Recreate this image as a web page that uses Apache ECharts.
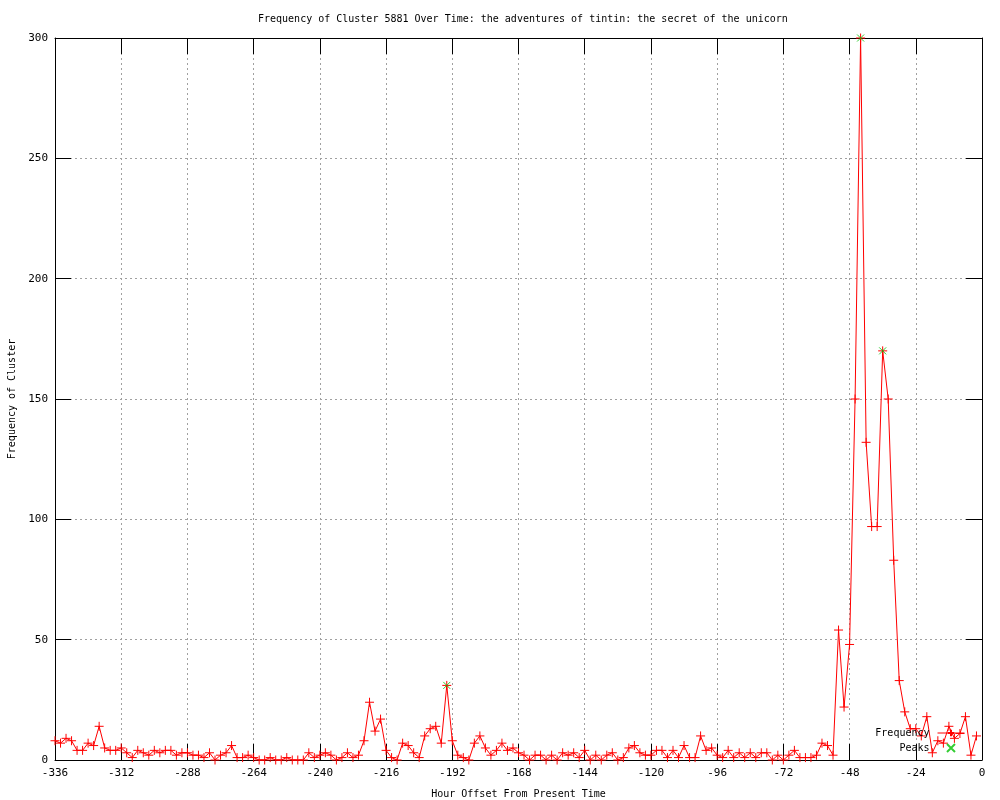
<!DOCTYPE html>
<html>
<head>
<meta charset="utf-8">
<script src="https://cdn.jsdelivr.net/npm/echarts@6/dist/echarts.min.js"></script>
<style>html,body{margin:0;padding:0;background:#fff;}#c{width:1000px;height:800px;}</style>
</head>
<body>
<div id="c"></div>
<script>
const titleText = 'Frequency of Cluster 5881 Over Time: the adventures of tintin: the secret of the unicorn';
const xName = 'Hour Offset From Present Time';
const yName = 'Frequency of Cluster';

const hours = [
  -336,-334,-332,-330,-328,-326,-324,-322,-320,-318,-316,-314,
  -312,-310,-308,-306,-304,-302,-300,-298,-296,-294,-292,-290,
  -288,-286,-284,-282,-280,-278,-276,-274,-272,-270,-268,-266,
  -264,-262,-260,-258,-256,-254,-252,-250,-248,-246,-244,-242,
  -240,-238,-236,-234,-232,-230,-228,-226,-224,-222,-220,-218,
  -216,-214,-212,-210,-208,-206,-204,-202,-200,-198,-196,-194,
  -192,-190,-188,-186,-184,-182,-180,-178,-176,-174,-172,-170,
  -168,-166,-164,-162,-160,-158,-156,-154,-152,-150,-148,-146,
  -144,-142,-140,-138,-136,-134,-132,-130,-128,-126,-124,-122,
  -120,-118,-116,-114,-112,-110,-108,-106,-104,-102,-100,-98,
  -96,-94,-92,-90,-88,-86,-84,-82,-80,-78,-76,-74,
  -72,-70,-68,-66,-64,-62,-60,-58,-56,-54,-52,-50,
  -48,-46,-44,-42,-40,-38,-36,-34,-32,-30,-28,-26,
  -24,-22,-20,-18,-16,-14,-12,-10,-8,-6,-4,-2
];
const frequency = [
  8,7,9,8,4,4,7,6,14,5,4,4,
  5,3,1,4,3,2,4,3,4,4,2,3,
  3,2,2,1,3,0,2,3,6,1,1,2,
  1,0,0,1,0,0,1,0,0,0,3,1,
  2,3,2,0,1,3,1,2,8,24,12,17,
  4,1,0,7,6,3,1,10,13,14,7,31,
  8,2,1,0,7,10,5,2,4,7,4,5,
  3,2,0,2,2,0,2,0,3,2,3,1,
  4,0,2,0,2,3,0,1,5,6,3,2,
  2,4,4,1,4,1,6,1,1,10,4,5,
  2,1,4,1,3,1,3,1,3,3,0,2,
  0,2,4,1,1,1,2,7,6,2,54,22,
  48,150,300,132,97,97,170,150,83,33,20,13,
  13,10,18,3,8,7,14,9,11,18,2,10
];
const peakHours = [-194, -44, -36];
const peakValues = [31, 300, 170];

const xTicks = { min: -336, max: 0, interval: 24 };
const yTicks = { min: 0, max: 300, interval: 50 };

const FONT = 'DejaVu Sans Mono';
const plusPath = 'path://M0,5L10,5M5,0L5,10';
const crossPath = 'path://M0,0L10,10M10,0L0,10';

const chart = echarts.init(document.getElementById('c'), null, { renderer: 'canvas' });

const gridLine = { show: true, lineStyle: { color: '#a0a0a0', width: 1, type: [2, 3] } };
const blackLine = { show: true, onZero: false, lineStyle: { color: '#000', width: 1 } };
const tick = { show: true, inside: true, length: 16, lineStyle: { color: '#000', width: 1 } };

chart.setOption({
  animation: false,
  backgroundColor: '#fff',
  title: {
    text: titleText, left: 253, top: 9,
    textStyle: { fontFamily: FONT, fontSize: 10, fontWeight: 'normal', color: '#000' }
  },
  grid: { left: 55, right: 18, top: 38, bottom: 40, outerBoundsMode: 'none', containLabel: false },
  legend: {
    orient: 'vertical', right: 30, top: 723, align: 'right',
    itemWidth: 27, itemHeight: 8, itemGap: 5,
    lineStyle: { width: 1 },
    textStyle: { fontFamily: FONT, fontSize: 10, color: '#000', padding: [0, 3, 0, 0] },
    data: ['Frequency', 'Peaks']
  },
  xAxis: [{
    type: 'value', min: xTicks.min, max: xTicks.max, interval: xTicks.interval,
    name: xName, nameLocation: 'middle', nameGap: 29,
    nameTextStyle: { fontFamily: FONT, fontSize: 10, color: '#000' },
    axisLine: blackLine, axisTick: tick, splitLine: gridLine,
    axisLabel: { fontFamily: FONT, fontSize: 11, color: '#000', margin: 8 }
  }, {
    type: 'value', position: 'top', min: xTicks.min, max: xTicks.max, interval: xTicks.interval,
    axisLine: blackLine, axisTick: tick, splitLine: { show: false }, axisLabel: { show: false }
  }],
  yAxis: [{
    type: 'value', min: yTicks.min, max: yTicks.max, interval: yTicks.interval,
    name: yName, nameLocation: 'middle', nameGap: 37, nameRotate: 90,
    nameTextStyle: { fontFamily: FONT, fontSize: 10, color: '#000' },
    axisLine: blackLine, axisTick: tick, splitLine: gridLine,
    axisLabel: { fontFamily: FONT, fontSize: 11, color: '#000', margin: 7 }
  }, {
    type: 'value', position: 'right', min: yTicks.min, max: yTicks.max, interval: yTicks.interval,
    axisLine: blackLine, axisTick: tick, splitLine: { show: false }, axisLabel: { show: false }
  }],
  series: [{
    name: 'Frequency', type: 'line', xAxisIndex: 0, yAxisIndex: 0,
    data: hours.map((h, i) => [h, frequency[i]]),
    color: '#ff0000',
    lineStyle: { color: '#ff0000', width: 1 },
    symbol: plusPath, symbolSize: 9, showAllSymbol: true,
    itemStyle: { color: '#ff0000', borderColor: '#ff0000', borderWidth: 1 },
    clip: false, z: 2
  }, {
    name: 'Peaks', type: 'scatter', xAxisIndex: 0, yAxisIndex: 0,
    data: peakHours.map((h, i) => [h, peakValues[i]]),
    color: '#00c000',
    symbol: crossPath, symbolSize: 7,
    itemStyle: { color: '#00c000', borderColor: '#00c000', borderWidth: 1 },
    clip: false, z: 3
  }]
});
</script>
</body>
</html>
